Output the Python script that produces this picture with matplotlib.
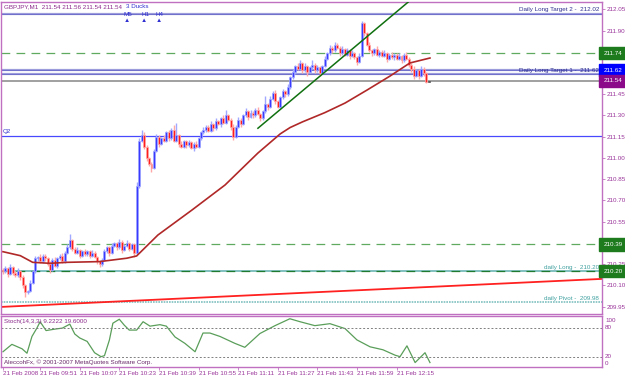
import numpy as np
import matplotlib.pyplot as plt
from matplotlib import font_manager

# font: narrow if we have it
try:
    font_manager.findfont('Liberation Sans Narrow', fallback_to_default=False)
    FONT = 'Liberation Sans Narrow'
    FS = 5.2
except ValueError:
    FONT = 'Liberation Sans'
    FS = 4.5
plt.rcParams['font.family'] = [FONT, 'DejaVu Sans']

# ---- data (GBPJPY M1) ----
first_open = 210.21
closes = [
    210.20, 210.22, 210.18, 210.23, 210.19, 210.17, 210.20, 210.16, 210.10, 210.05,
    210.06, 210.12, 210.20, 210.29, 210.30, 210.27, 210.31, 210.29, 210.25, 210.21,
    210.28, 210.24, 210.29, 210.31, 210.27, 210.33, 210.37, 210.42, 210.36, 210.33,
    210.35, 210.31, 210.34, 210.32, 210.34, 210.31, 210.33, 210.30, 210.27, 210.25,
    210.28, 210.34, 210.37, 210.33, 210.38, 210.40, 210.37, 210.41, 210.35, 210.38,
    210.40, 210.36, 210.39, 210.33, 210.80, 211.12, 211.16, 211.08, 211.00, 210.96,
    210.93, 211.05, 211.15, 211.10, 211.14, 211.12, 211.18, 211.14, 211.20, 211.12,
    211.16, 211.10, 211.08, 211.12, 211.09, 211.11, 211.07, 211.10, 211.08, 211.14,
    211.18, 211.20, 211.22, 211.19, 211.24, 211.21, 211.26, 211.24, 211.28, 211.25,
    211.30, 211.27, 211.22, 211.15, 211.22, 211.27, 211.24, 211.30, 211.33, 211.29,
    211.32, 211.30, 211.34, 211.31, 211.28, 211.33, 211.38, 211.36, 211.42, 211.46,
    211.40, 211.36, 211.43, 211.47, 211.45, 211.50, 211.57, 211.61, 211.65, 211.63,
    211.67, 211.62, 211.65, 211.61, 211.64, 211.66, 211.62, 211.64, 211.60, 211.65,
    211.70, 211.74, 211.78, 211.76, 211.80, 211.78, 211.74, 211.77, 211.73, 211.76,
    211.72, 211.74, 211.71, 211.68, 211.72, 211.95, 211.88, 211.80, 211.76, 211.74,
    211.77, 211.73, 211.75, 211.72, 211.74, 211.70, 211.73, 211.71, 211.73, 211.70,
    211.72, 211.69, 211.73, 211.70, 211.66, 211.63, 211.58, 211.62, 211.58, 211.63,
    211.60, 211.54, 211.54,
]
# wick lengths in pips
wick_up = [
    1, 2, 1, 2, 1, 1, 2, 1, 1, 1, 1, 2, 1, 2, 1, 2, 1, 1, 1, 2,
    1, 2, 1, 1, 2, 1, 2, 4, 1, 1, 2, 1, 1, 2, 1, 1, 2, 1, 1, 1,
    1, 2, 1, 1, 2, 1, 1, 2, 1, 1, 2, 1, 1, 1, 3, 2, 4, 2, 1, 1,
    1, 1, 2, 1, 1, 2, 1, 2, 1, 3, 9, 1, 2, 1, 1, 2, 1, 1, 2, 1,
    1, 2, 1, 1, 2, 1, 2, 1, 1, 2, 4, 1, 1, 2, 1, 2, 1, 1, 2, 1,
    2, 1, 1, 2, 1, 1, 6, 1, 2, 1, 2, 1, 1, 2, 1, 2, 1, 2, 1, 2,
    2, 1, 2, 1, 1, 3, 1, 2, 1, 1, 2, 1, 2, 1, 2, 1, 1, 2, 1, 2,
    1, 2, 1, 1, 2, 2, 1, 1, 2, 1, 1, 2, 1, 1, 2, 1, 1, 2, 1, 1,
    2, 1, 1, 2, 1, 1, 2, 1, 1, 2, 1, 1, 0,
]
wick_dn = [
    2, 1, 2, 1, 2, 1, 1, 2, 2, 3, 1, 1, 1, 1, 2, 1, 1, 2, 1, 2,
    1, 1, 2, 1, 1, 1, 1, 1, 2, 1, 1, 2, 1, 1, 1, 2, 1, 1, 2, 2,
    1, 1, 1, 2, 1, 1, 2, 1, 2, 1, 1, 2, 1, 3, 1, 1, 1, 2, 2, 2,
    3, 1, 1, 2, 1, 1, 1, 2, 1, 1, 1, 2, 1, 1, 2, 1, 1, 2, 1, 1,
    1, 1, 2, 1, 1, 2, 1, 1, 2, 1, 1, 1, 2, 2, 1, 1, 2, 1, 1, 2,
    1, 2, 1, 1, 2, 1, 1, 2, 1, 1, 2, 1, 1, 1, 2, 1, 1, 1, 2, 1,
    1, 2, 1, 3, 1, 1, 2, 1, 2, 1, 1, 1, 1, 2, 1, 1, 2, 1, 1, 1,
    2, 1, 1, 2, 1, 1, 2, 1, 1, 2, 1, 1, 2, 1, 1, 2, 1, 1, 2, 1,
    1, 2, 1, 1, 2, 2, 2, 1, 2, 1, 2, 1, 0,
]

# moving average (bar index, price)
ma_idx = [0, 7, 12, 19, 26, 39, 50, 54, 62.6, 76.4, 89.7, 103, 108, 112, 116, 121,
          130, 138.2, 147.1, 156.4, 164.4, 172.5]
ma_val = [210.338, 210.31, 210.263, 210.256, 210.263, 210.268, 210.292, 210.308,
          210.456, 210.633, 210.809, 211.035, 211.11, 211.17, 211.215, 211.255,
          211.32, 211.388, 211.48, 211.579, 211.671, 211.706]

# stochastic main line (bar index, value)
stoch_idx = [0, 3.6, 7.7, 9.7, 11.7, 13.7, 15, 17.4, 21, 24, 27, 29, 31, 34, 37,
             39.6, 41, 43, 44.4, 47, 49, 51, 54, 56.6, 59.4, 63.4, 66, 69.5, 73.5,
             77.6, 80.8, 83.6, 87.7, 93.7, 97.7, 103.8, 109.9, 115.9, 120, 126,
             132.1, 138.2, 143, 148.3, 153.5, 158.4, 160.4, 163.2, 166.5, 170.5, 172.5]
stoch_val = [31, 46, 37, 28, 62, 79, 92, 74, 77, 79, 87, 67, 59, 52, 29,
             21, 23, 55, 89, 97, 85, 75, 75, 92, 83, 86, 83, 61, 48,
             31, 69, 69, 62, 48, 40, 68, 84, 98, 92, 84,
             88, 78, 55, 41, 35, 24, 21, 43, 9, 29, 9]

# levels
long_target2 = 212.02
long_target1 = 211.62
level_b = 211.593
bid = 211.544
green_upper = 211.74
q2 = 211.157
green_mid = 210.39
daily_long = 210.20
daily_pivot = 209.98
red_trend = [(-0.8, 209.948), (242.0, 210.146)]
green_trend = [(103, 211.21), (166, 212.135)]

price_ticks = [209.95, 210.10, 210.25, 210.40, 210.55, 210.70, 210.85, 211.00, 211.15,
               211.30, 211.45, 211.60, 211.75, 211.90, 212.05]
hidden_ticks = [210.40, 211.60, 211.75]   # covered by the price boxes

time_idx = [0, 15, 31, 47, 63, 79, 95, 111, 127, 143, 159]
time_lbl = ['21 Feb 2008', '21 Feb 09:51', '21 Feb 10:07', '21 Feb 10:23', '21 Feb 10:39',
            '21 Feb 10:55', '21 Feb 11:11', '21 Feb 11:27', '21 Feb 11:43', '21 Feb 11:59',
            '21 Feb 12:15']

# ---- figure ----
W, H = 625, 378
fig = plt.figure(figsize=(W / 100, H / 100), dpi=100)
fig.patch.set_facecolor('white')

def box(l, t, r, b):
    return [l / W, 1 - b / H, (r - l) / W, (b - t) / H]

def ftext(x, y, s, **kw):
    fig.text(x / W, 1 - y / H, s, fontsize=FS, **kw)

FRAME = '#c070c0'
AXTXT = '#993399'

ax = fig.add_axes(box(1, 2, 602, 314))
ax2 = fig.add_axes(box(1, 316, 602, 367))
for a in (ax, ax2):
    a.set_xlim(-0.8, 242)
    a.set_facecolor('white')
    for s in a.spines.values():
        s.set_color(FRAME)
        s.set_linewidth(1.0)
ax.set_ylim(209.898, 212.1016)
ax2.set_ylim(0, 103.6)

# horizontal levels
for v in (long_target2, long_target1, level_b):
    ax.axhline(v, color='#9c9cdc', lw=1.6, zorder=1)
    ax.axhline(v, color='#5050c0', lw=0.4, zorder=1)
ax.axhline(bid, color='#a0a0a0', lw=1.4, zorder=1)
ax.axhline(green_upper, color='#60aa60', lw=0.9, dashes=(7, 5), zorder=1)
ax.axhline(green_mid, color='#60aa60', lw=0.9, dashes=(7, 5), zorder=1)
ax.axhline(daily_long, color='#80c0c0', lw=1.4, zorder=1)
ax.axhline(daily_long, color='#207a30', lw=0.9, dashes=(7, 5), zorder=1)
ax.axhline(q2, color='#4848ff', lw=0.9, zorder=1)
ax.axhline(daily_pivot, color='#80c0c0', lw=1.2, linestyle=(0, (1, 0.6)), zorder=1)

ax.plot([p[0] for p in red_trend], [p[1] for p in red_trend], color='#ff2020', lw=1.3, zorder=2)
ax.plot([p[0] for p in green_trend], [p[1] for p in green_trend], color='#107010', lw=1.1, zorder=4)

# candles
opens = [first_open] + closes[:-1]
idx = np.arange(len(closes))
for i in idx:
    o, c = opens[i], closes[i]
    hi = max(o, c) + wick_up[i] / 100
    lo = min(o, c) - wick_dn[i] / 100
    if abs(c - o) < 0.005:
        col, edge = '#000000', '#606060'
    elif c > o:
        col, edge = '#3a3aff', '#a0a8ff'
    else:
        col, edge = '#ff1e1e', '#ffa8a8'
    ax.vlines(i, lo, hi, color=edge, lw=1.0, zorder=3)
    ax.bar(i, max(abs(c - o), 0.005), bottom=min(o, c), width=0.8,
           color=col, edgecolor=edge, linewidth=0.5, zorder=3)

ax.plot(ma_idx, ma_val, color='#b02828', lw=1.2, zorder=4)

# right price axis
ax.yaxis.tick_right()
ax.set_yticks(price_ticks)
ax.set_yticklabels(['' if t in hidden_ticks else '%.2f' % t for t in price_ticks])
ax.tick_params(axis='y', length=2, width=0.6, color=FRAME, labelsize=FS, labelcolor=AXTXT, pad=1)
ax.set_xticks([])

for v, s, bg in [(green_upper, '211.74', '#1d7a1d'), (long_target1, '211.62', '#0000ff'),
                 (bid, '211.54', '#8a0a8a'), (green_mid, '210.39', '#1d7a1d'),
                 (daily_long, '210.20', '#1d7a1d')]:
    ax.text(1.002, v, s, transform=ax.get_yaxis_transform(), fontsize=FS, color='white',
            va='center', ha='left', clip_on=False, zorder=10,
            bbox=dict(facecolor=bg, edgecolor=bg, pad=0.6, boxstyle='square'))

# level captions
ax.text(598 / 601, long_target2 + 0.012, 'Daily Long Target 2 -  212.02', transform=ax.get_yaxis_transform(),
        fontsize=FS, color='#303090', ha='right', va='bottom')
ax.text(598 / 601, long_target1, 'Daily Long Target 1 -  211.62', transform=ax.get_yaxis_transform(),
        fontsize=FS, color='#303090', ha='right', va='center')
ax.text(598 / 601, daily_long + 0.012, 'daily Long -  210.20', transform=ax.get_yaxis_transform(),
        fontsize=FS, color='#40a0a0', ha='right', va='bottom')
ax.text(598 / 601, daily_pivot + 0.012, 'daily Pivot -  209.98', transform=ax.get_yaxis_transform(),
        fontsize=FS, color='#40a0a0', ha='right', va='bottom')
ax.text(0.003, q2 + 0.012, 'Q2', transform=ax.get_yaxis_transform(),
        fontsize=FS, color='#3030d0', ha='left', va='bottom')

# header
ftext(4, 7, 'GBPJPY,M1  211.54 211.56 211.54 211.54', color='#8b2a8b', va='center')
ftext(126, 7, '3 Ducks', color='#3030d0', va='center')
for x, s in [(124, 'M5'), (141, 'H1'), (156, 'H4')]:
    ftext(x, 15, s, color='#3030d0', va='center')
    ftext(x + 3, 20.5, '\u25b2', color='#3030d0', va='center', ha='center')

# stochastic panel
ax2.plot(stoch_idx, stoch_val, color='#5a9e5a', lw=0.9)
ax2.axhline(80, color='#808080', lw=0.7, linestyle=(0, (2, 2)))
ax2.axhline(20, color='#808080', lw=0.7, linestyle=(0, (2, 2)))
ax2.set_yticks([])
ax2.set_xticks(time_idx)
ax2.set_xticklabels(time_lbl)
ax2.tick_params(axis='x', length=2, width=0.6, color=FRAME, labelsize=FS, labelcolor=AXTXT, pad=1)
for lab in ax2.get_xticklabels():
    lab.set_ha('left')
for y, s in [(321, '100'), (327.7, '80'), (356.7, '20'), (363.3, '0')]:
    ftext(605, y, s, color=AXTXT, va='center')
ftext(4, 321, 'Stoch(14,3,3) 9.2222 19.6000', color='#8b2a8b', va='center')
ftext(4, 362, 'AleccohFx, \u00a9 2001-2007 MetaQuotes Software Corp.', color='#6a2a6a', va='center')

fig.savefig('out.png', dpi=100, facecolor='white')
